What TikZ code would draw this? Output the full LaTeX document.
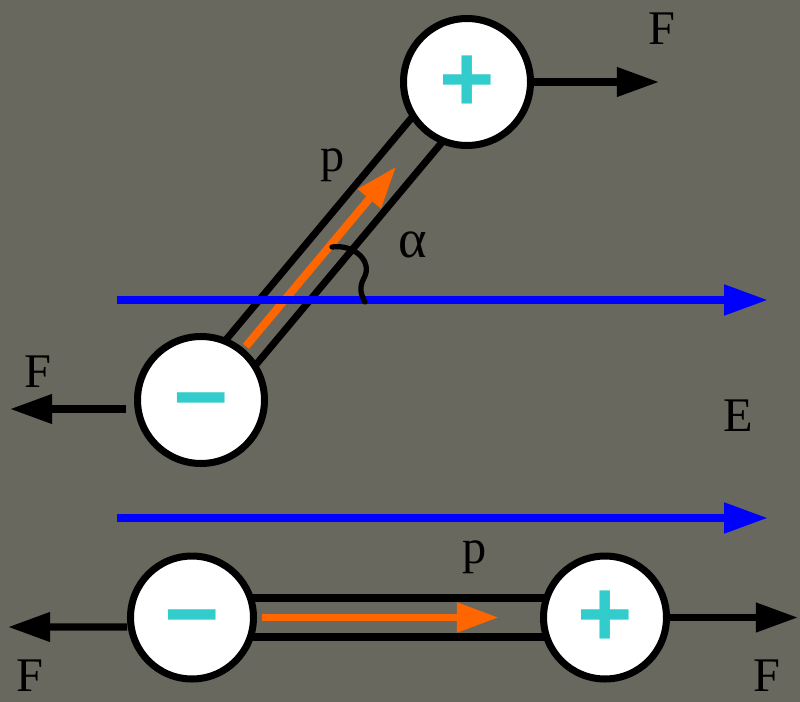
\documentclass[tikz,border=0pt]{standalone}
\usepackage{fontspec}
\setmainfont{Liberation Serif}
\newfontfamily\signfont{Liberation Sans}
\usetikzlibrary{arrows.meta,calc,backgrounds}
\definecolor{bgolive}{RGB}{104,104,94}
\definecolor{fieldblue}{RGB}{0,0,255}
\definecolor{momorange}{RGB}{255,102,0}
\definecolor{signcyan}{RGB}{51,204,204}

\begin{document}
\begin{tikzpicture}[
        x=0.02cm, y=-0.02cm,
        charge/.style={circle, draw, line width=4pt, fill=white, minimum size=2.54cm, inner sep=0pt,
            text=signcyan, font=\signfont\bfseries\fontsize{54}{54}\selectfont, text height=33.5pt, text depth=0pt},
        rod/.style={line width=4pt},
        force/.style={line width=4pt, -{Triangle[length=24pt, width=16pt]}},
        field/.style={line width=4.5pt, fieldblue, -{Triangle[length=25pt, width=16.5pt]}},
        dipole/.style={line width=4.5pt, momorange, -{Triangle[length=24pt, width=16pt]}},
        anglemark/.style={line width=3pt, line cap=round},
        lbl/.style={font=\fontsize{27.5}{30}\selectfont, inner sep=0pt},
    ]
        \useasboundingbox (0,0) rectangle (800,702);

        % tilted dipole
        \node[charge] (topplus) at (467,82) {+};
        \node[charge] (topminus) at (201,400) {−};

        % aligned dipole
        \node[charge, minimum size=2.46cm] (botminus) at (192,617.5) {−};
        \node[charge, minimum size=2.46cm] (botplus) at (605,617.5) {+};

        \begin{scope}[on background layer]
            \fill[bgolive] (0,0) rectangle (800,702);
            \draw[rod] ($(topminus.center)!0.39cm!90:(topplus.center)$) -- ($(topplus.center)!0.39cm!-90:(topminus.center)$);
            \draw[rod] ($(topminus.center)!0.39cm!-90:(topplus.center)$) -- ($(topplus.center)!0.39cm!90:(topminus.center)$);
            \draw[rod] ($(botminus.center)!0.39cm!90:(botplus.center)$) -- ($(botplus.center)!0.39cm!-90:(botminus.center)$);
            \draw[rod] ($(botminus.center)!0.39cm!-90:(botplus.center)$) -- ($(botplus.center)!0.39cm!90:(botminus.center)$);
        \end{scope}

        \coordinate (Ftr) at (659,82);
        \coordinate (Ftl) at (10,409);
        \coordinate (Fbl) at (8,627);
        \coordinate (Fbr) at (798,617.5);
        \coordinate (Etop1) at (117,300);
        \coordinate (Etop2) at (768,300);
        \coordinate (Ebot1) at (117,518);
        \coordinate (Ebot2) at (768,518);

        \draw[force] (topplus.east) -- (Ftr);
        \draw[force] ([shift={(-8,9)}]topminus.west) -- (Ftl);
        \draw[force] ([shift={(0,9.5)}]botminus.west) -- (Fbl);
        \draw[force] (botplus.east) -- (Fbr);

        \draw[dipole] ($(topminus.center)!1.4cm!(topplus.center)$) -- ($(topminus.center)!6.09cm!(topplus.center)$);
        \draw[dipole] ($(botminus.center)!1.4cm!(botplus.center)$) -- ($(botminus.center)!6.14cm!(botplus.center)$);

        \draw[field] (Etop1) -- (Etop2);
        \draw[field] (Ebot1) -- (Ebot2);

        \draw[anglemark] (332,247) .. controls (355,244) and (373,262) .. (364,278) .. controls (358,289) and (362,296) .. (365,302);

        \node[lbl] (FtrLbl) at (662,29) {F};
        \node[lbl] (FtlLbl) at (38,372) {F};
        \node[lbl] (FblLbl) at (30,676) {F};
        \node[lbl] (FbrLbl) at (767,676) {F};
        \node[lbl] (pTop) at (333,165) {p};
        \node[lbl] (pBot) at (475,557) {p};
        \node[lbl, font=\fontsize{31}{34}\selectfont] (alpha) at (413,245) {α};
        \node[lbl] (Elbl) at (738,416) {E};
    \end{tikzpicture}
\end{document}
